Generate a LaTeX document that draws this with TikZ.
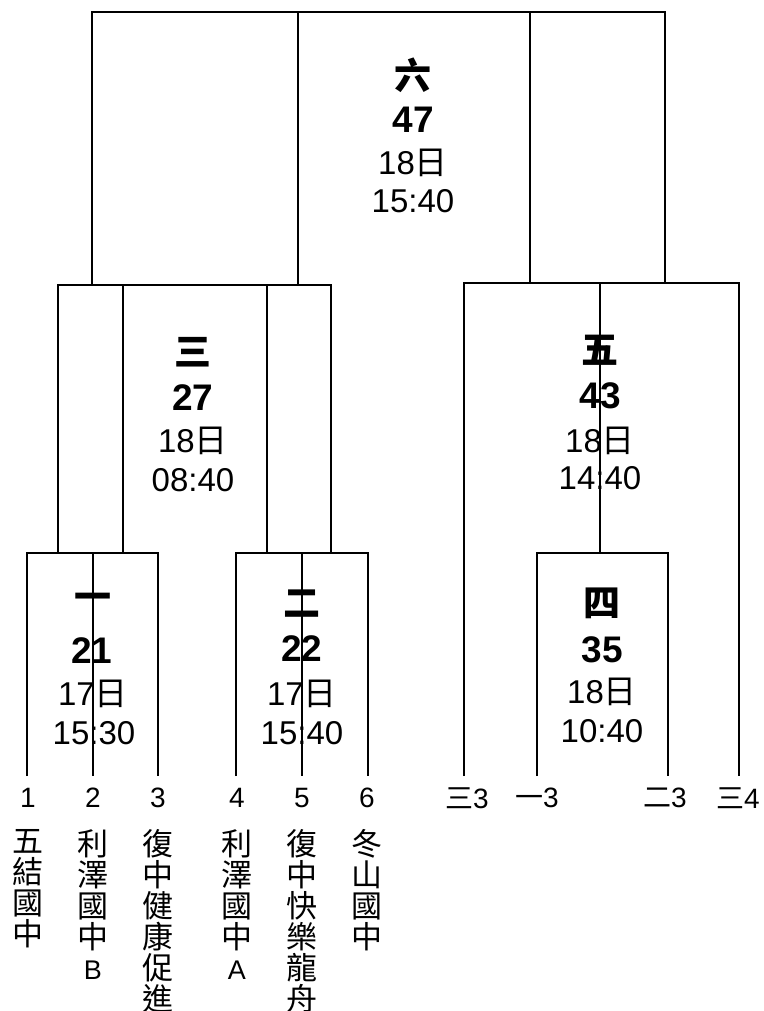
\documentclass[tikz,border=0pt]{standalone}
\usepackage{fontspec}
\setmainfont{Liberation Sans}
\newfontfamily\cjk{Noto Sans CJK TC}
\begin{document}
\begin{tikzpicture}[x=1pt,y=-1pt]
\useasboundingbox[fill=white] (0,0) rectangle (763,1011);
\tikzset{
  br/.style={draw=black, line width=1.3pt},
  rnd/.style={font=\cjk\bfseries\fontsize{37}{37}\selectfont, inner sep=0pt},
  num/.style={font=\bfseries\fontsize{37}{37}\selectfont, inner sep=0pt},
  info/.style={font=\fontsize{33}{33}\selectfont, inner sep=0pt},
  seed/.style={font=\fontsize{28}{28}\selectfont, inner sep=0pt},
  team/.style={font=\cjk\fontsize{31}{31}\selectfont, align=center, anchor=north, inner sep=0pt},
}
\newcommand\ri{{\cjk 日}}
% ---- bracket lines ----
% final (六)
\draw[br] (92,285) |- (665,12) -- (665,283);
\draw[br] (298,12) -- (298,285);
\draw[br] (530,12) -- (530,283);
% semi (三)
\draw[br] (58,553) |- (331,285) -- (331,553);
\draw[br] (123,285) -- (123,553);
\draw[br] (267,285) -- (267,553);
% 一
\draw[br] (27,776) |- (158,553) -- (158,776);
\draw[br] (93,553) -- (93,776);
% 二
\draw[br] (236,776) |- (368,553) -- (368,776);
\draw[br] (302,553) -- (302,776);
% 五
\draw[br] (464,776) |- (739,283) -- (739,776);
\draw[br] (600,283) -- (600,553);
% 四
\draw[br] (537,776) |- (668,553) -- (668,776);

% ---- match labels ----
\node[rnd]  (r6) at (413,75)  {六};
\node[num]  (n6) at (413,120) {47};
\node[info] (d6) at (413,163) {18\ri};
\node[info] (t6) at (413,201) {15:40};

\node[rnd]  (r3) at (193,352) {三};
\node[num]  (n3) at (193,398) {27};
\node[info] (d3) at (193,441) {18\ri};
\node[info] (t3) at (193,480) {08:40};

\node[rnd]  (r5) at (600,350) {五};
\node[num]  (n5) at (600,396) {43};
\node[info] (d5) at (600,441) {18\ri};
\node[info] (t5) at (600,478) {14:40};

\node[rnd]  (r1) at (93,602) {一};
\node[num]  (n1) at (92,651) {21};
\node[info] (d1) at (93,694) {17\ri};
\node[info] (t1) at (94,733) {15:30};

\node[rnd]  (r2) at (302,604) {二};
\node[num]  (n2) at (302,649) {22};
\node[info] (d2) at (302,694) {17\ri};
\node[info] (t2) at (302,733) {15:40};

\node[rnd]  (r4) at (602,603) {四};
\node[num]  (n4) at (602,650) {35};
\node[info] (d4) at (602,692) {18\ri};
\node[info] (t4) at (602,731) {10:40};

% ---- seeds ----
\node[seed] (s1) at (28,798)  {1};
\node[seed] (s2) at (93,798)  {2};
\node[seed] (s3) at (158,798) {3};
\node[seed] (s4) at (237,798) {4};
\node[seed] (s5) at (302,798) {5};
\node[seed] (s6) at (367,798) {6};
\node[seed] (s7) at (467,798) {{\cjk 三}3};
\node[seed] (s8) at (537,798) {{\cjk 一}3};
\node[seed] (s9) at (665,798) {{\cjk 二}3};
\node[seed] (s10) at (738,798) {{\cjk 三}4};

% ---- teams ----
\node[team] (p1) at (28,829)  {五\\結\\國\\中};
\node[team] (p2) at (93,829)  {利\\澤\\國\\中\\{\normalfont\fontsize{27}{31}\selectfont B}};
\node[team] (p3) at (158,829) {復\\中\\健\\康\\促\\進};
\node[team] (p4) at (237,829) {利\\澤\\國\\中\\{\normalfont\fontsize{27}{31}\selectfont A}};
\node[team] (p5) at (302,829) {復\\中\\快\\樂\\龍\\舟};
\node[team] (p6) at (367,829) {冬\\山\\國\\中};
\end{tikzpicture}
\end{document}
